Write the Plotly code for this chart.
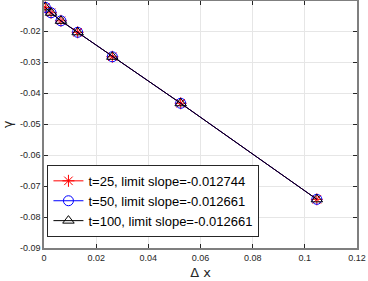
import plotly.graph_objects as go

# Data
dx = [0.0005, 0.0027, 0.0065, 0.0129, 0.0262, 0.0524, 0.1046]
gamma_t25 = [-0.01235, -0.0141, -0.0167, -0.0204, -0.0283, -0.0433, -0.0743]
gamma_t50 = [-0.01235, -0.0141, -0.0167, -0.0204, -0.0283, -0.0433, -0.0743]
gamma_t100 = [-0.01235, -0.0141, -0.0167, -0.0204, -0.0283, -0.0433, -0.0743]
names = ["t=25, limit slope=-0.012744",
         "t=50, limit slope=-0.012661",
         "t=100, limit slope=-0.012661"]

x_ticks = [0, 0.02, 0.04, 0.06, 0.08, 0.1, 0.12]
x_ticktext = ["0", "0.02", "0.04", "0.06", "0.08", "0.1", "0.12"]
y_ticks = [-0.02, -0.03, -0.04, -0.05, -0.06, -0.07, -0.08, -0.09]
y_ticktext = ["-0.02", "-0.03", "-0.04", "-0.05", "-0.06", "-0.07", "-0.08", "-0.09"]

FONT = "Liberation Sans, Arial, Helvetica, sans-serif"

fig = go.Figure()
series = [
    (gamma_t25, "red", "asterisk-open"),
    (gamma_t50, "blue", "circle-open"),
    (gamma_t100, "black", "triangle-up-open"),
]
for (ys, col, sym), nm in zip(series, names):
    fig.add_trace(go.Scatter(
        x=dx, y=ys, name=nm, mode="lines+markers",
        line=dict(color=col, width=1),
        marker=dict(symbol=sym, size=10, color=col, line=dict(color=col, width=1)),
    ))

axis_common = dict(
    showgrid=True, gridcolor="#e6e6e6", gridwidth=1,
    showline=True, linecolor="#7f7f7f", linewidth=1.5, mirror="ticks",
    ticks="inside", ticklen=4, tickcolor="#262626",
    tickfont=dict(family=FONT, size=9, color="#262626"),
    zeroline=False,
)

fig.update_layout(
    width=368, height=281,
    margin=dict(l=44, r=11, t=1, b=33),
    paper_bgcolor="white", plot_bgcolor="white",
    font=dict(family=FONT, color="#262626"),
    xaxis=dict(range=[0, 0.12], tickvals=x_ticks, ticktext=x_ticktext,
               title=dict(text="Δ x", font=dict(family="DejaVu Sans, sans-serif", size=13, color="#262626"), standoff=6),
               automargin=False,
               **axis_common),
    yaxis=dict(range=[-0.09, -0.0103], tickvals=y_ticks, ticktext=y_ticktext,
               title=dict(text="γ", font=dict(family="DejaVu Sans, sans-serif", size=13, color="#262626"), standoff=8),
               automargin=False,
               **axis_common),
    legend=dict(x=0.011, y=0.045, xanchor="left", yanchor="bottom",
                bgcolor="white", bordercolor="#262626", borderwidth=1,
                font=dict(family=FONT, size=13, color="#000000"),
                itemwidth=30, tracegroupgap=0),
    showlegend=True,
)

fig.write_html("out.html",
               config={"displayModeBar": False},
               post_script="document.body.style.margin='0';document.body.style.overflow='hidden';")
